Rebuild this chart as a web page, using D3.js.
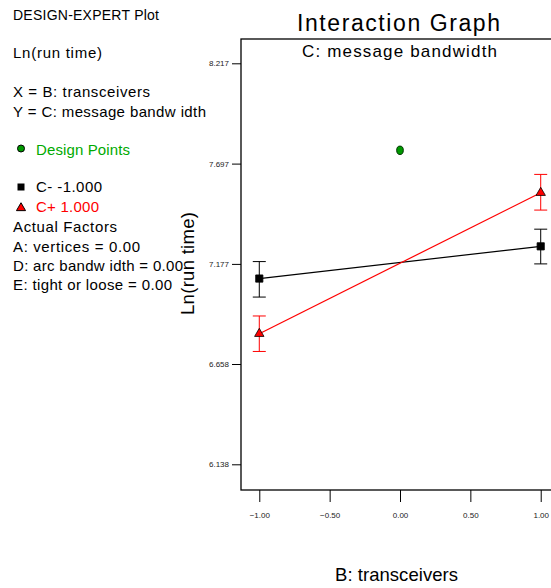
<!DOCTYPE html>
<html>
<head>
<meta charset="utf-8">
<script src="https://cdn.jsdelivr.net/npm/d3@7"></script>
<style>
  body { margin: 0; background: #fff; }
  svg { display: block; font-family: "Liberation Sans", Arial, sans-serif; }
</style>
</head>
<body>
<svg width="551" height="588"></svg>
<script>
const svg = d3.select("svg");

// data
const levels = [-1, 1];
const cMinus = [7.101, 7.268];
const cMinusLow = [7.005, 7.177];
const cMinusHigh = [7.189, 7.357];
const cPlus = [6.815, 7.546];
const cPlusLow = [6.723, 7.456];
const cPlusHigh = [6.907, 7.641];
const designX = [0];
const designY = [7.766];
const yTicks = [6.138, 6.658, 7.177, 7.697, 8.217];
const xTicks = [-1, -0.5, 0, 0.5, 1];
const infoLines = [
  ["DESIGN-EXPERT Plot", 20, 146, 14],
  ["Ln(run time)", 58, 89, 15],
  ["X = B: transceivers", 97, 137, 15],
  ["Y = C: message bandw idth", 117, 193, 15]
];
const factorLines = [
  ["Actual Factors", 232, 104, 15],
  ["A: vertices = 0.00", 252, 127, 15],
  ["D: arc bandw idth = 0.00", 271, 170, 15],
  ["E: tight or loose = 0.00", 290, 159, 15]
];

const plotL = 241, plotT = 39, plotB = 490, plotR = 559;

const x = d3.scaleLinear().domain([-1.13, 1.13]).range([plotL, plotR]);
const y = d3.scaleLinear().domain([6.138, 8.217]).range([464.3, 63.3]);

// frame
svg.append("rect")
  .attr("x", plotL).attr("y", plotT)
  .attr("width", plotR - plotL).attr("height", plotB - plotT)
  .attr("fill", "none").attr("stroke", "#000").attr("stroke-width", 1.3);

// axes
const yAxis = svg.append("g")
  .attr("transform", `translate(${plotL},0)`)
  .call(d3.axisLeft(y).tickValues(yTicks).tickFormat(d3.format(".3f")).tickSize(9).tickPadding(3));
const xAxis = svg.append("g")
  .attr("transform", `translate(0,${plotB})`)
  .call(d3.axisBottom(x).tickValues(xTicks).tickFormat(d3.format(".2f")).tickSize(12).tickPadding(10));
[yAxis, xAxis].forEach(g => {
  g.select(".domain").remove();
  g.selectAll("line").attr("stroke", "#000");
  g.selectAll("text").attr("fill", "#222").style("font-size", "8px").style("font-family", "Liberation Sans, Arial, sans-serif");
});

// titles
const label = (tx, ty, size, len, str) => svg.append("text")
  .attr("x", tx).attr("y", ty).attr("text-anchor", "middle")
  .attr("textLength", len).attr("lengthAdjust", "spacing")
  .style("font-size", size + "px").text(str);
label(398.5, 31, 23, 203, "Interaction Graph");
label(399.5, 56.5, 17, 195, "C: message bandwidth");
label(396.5, 580.5, 18.5, 123, "B: transceivers");
svg.append("text")
  .attr("transform", "translate(194,263.5) rotate(-90)")
  .attr("text-anchor", "middle")
  .attr("textLength", 103).attr("lengthAdjust", "spacing")
  .style("font-size", "18.5px").text("Ln(run time)");

// series
const series = [
  { vals: cMinus, lo: cMinusLow, hi: cMinusHigh, color: "#000", shape: d3.symbolSquare, size: 52 },
  { vals: cPlus, lo: cPlusLow, hi: cPlusHigh, color: "#ff0000", shape: d3.symbolTriangle, size: 38 }
];

series.forEach(s => {
  const g = svg.append("g");
  g.append("path")
    .datum(levels.map((l, i) => [l, s.vals[i]]))
    .attr("fill", "none").attr("stroke", s.color).attr("stroke-width", 1.2)
    .attr("d", d3.line().x(d => x(d[0])).y(d => y(d[1])));
  levels.forEach((l, i) => {
    g.append("line").attr("x1", x(l)).attr("x2", x(l))
      .attr("y1", y(s.lo[i])).attr("y2", y(s.hi[i])).attr("stroke", s.color);
    [s.lo[i], s.hi[i]].forEach(v => {
      g.append("line").attr("x1", x(l) - 6.5).attr("x2", x(l) + 6.5)
        .attr("y1", y(v)).attr("y2", y(v)).attr("stroke", s.color);
    });
    g.append("path")
      .attr("transform", `translate(${x(l)},${y(s.vals[i])})`)
      .attr("d", d3.symbol().type(s.shape).size(s.size)())
      .attr("fill", s.color)
      .attr("stroke", "#000").attr("stroke-width", 0.8);
  });
});

// design points
svg.selectAll(".dp")
  .data(designX.map((d, i) => [d, designY[i]]))
  .join("ellipse")
  .attr("cx", d => x(d[0])).attr("cy", d => y(d[1]))
  .attr("rx", 3.3).attr("ry", 4.2)
  .attr("fill", "#009900").attr("stroke", "#003300").attr("stroke-width", 1);

// left info panel
const panelText = (rows, tx) => svg.append("g")
  .selectAll("text")
  .data(rows)
  .join("text")
  .attr("x", tx)
  .attr("y", d => d[1])
  .style("font-size", d => d[3] + "px")
  .attr("textLength", d => d[2]).attr("lengthAdjust", "spacing")
  .text(d => d[0]);
panelText(infoLines, 13);
panelText(factorLines, 13);

svg.append("circle").attr("cx", 21).attr("cy", 148.5).attr("r", 3.5)
  .attr("fill", "#009900").attr("stroke", "#000").attr("stroke-width", 1);
svg.append("text").attr("x", 36).attr("y", 155).style("font-size", "15px")
  .attr("textLength", 94).attr("lengthAdjust", "spacing")
  .attr("fill", "#00aa00").text("Design Points");

svg.append("rect").attr("x", 17.5).attr("y", 183.5).attr("width", 7).attr("height", 7).attr("fill", "#000");
svg.append("text").attr("x", 36).attr("y", 192).style("font-size", "15px")
  .attr("textLength", 66).attr("lengthAdjust", "spacing").text("C- -1.000");
svg.append("path").attr("transform", "translate(21,208)")
  .attr("d", d3.symbol().type(d3.symbolTriangle).size(36)())
  .attr("fill", "#ff0000").attr("stroke", "#000").attr("stroke-width", 1);
svg.append("text").attr("x", 36).attr("y", 212).style("font-size", "15px")
  .attr("textLength", 63).attr("lengthAdjust", "spacing")
  .attr("fill", "#ff0000").text("C+ 1.000");
</script>
</body>
</html>
